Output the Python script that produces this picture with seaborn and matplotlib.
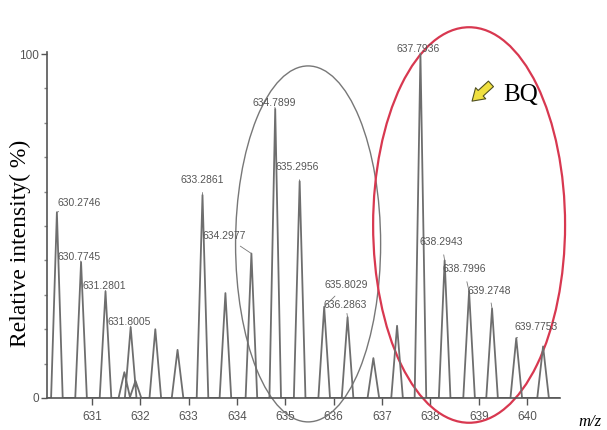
import numpy as np
import pandas as pd
import matplotlib
matplotlib.use("Agg")
import matplotlib.pyplot as plt
import seaborn as sns
from matplotlib.patches import Ellipse

# ---------------- data ----------------
peak_mz = [630.2746, 630.7745, 631.2801, 631.67, 631.8005, 631.90, 632.31, 632.77,
           633.2861, 633.76, 634.2977, 634.7899, 635.2956, 635.8029, 636.2863,
           636.82, 637.31, 637.7936, 638.2943, 638.7996, 639.2748, 639.7753, 640.33]
peak_int = [54, 39.5, 31, 7.5, 20.6, 5, 20, 14,
            59, 30.5, 42, 84, 63, 26.5, 23.5,
            11.6, 21, 100, 40, 31, 26, 17.4, 15]

label_mz = [630.2746, 630.7745, 631.2801, 631.8005, 633.2861, 634.2977, 634.7899,
            635.2956, 635.8029, 636.2863, 637.7936, 638.2943, 638.7996, 639.2748, 639.7753]
label_text = ["630.2746", "630.7745", "631.2801", "631.8005", "633.2861", "634.2977",
              "634.7899", "635.2956", "635.8029", "636.2863", "637.7936", "638.2943",
              "638.7996", "639.2748", "639.7753"]

x_ticks = [631, 632, 633, 634, 635, 636, 637, 638, 639, 640]
y_ticks = [0, 100]

# ---------------- layout / style ----------------
label_offsets = [(22, 9), (-2, 5), (-1, 5), (-1, 5), (0, 15), (-27, 18), (-1, 6),
                 (-2, 14), (22, 22), (-2, 12), (-2, 5), (-3, 18), (-5, 22), (-3, 18), (20, 11)]
half_w = 0.12
gray = "#6e6e6e"

sns.set_theme(style="white")
plt.rcParams["font.family"] = ["Liberation Sans", "DejaVu Sans"]

fig = plt.figure(figsize=(6.07, 4.30), dpi=100)
ax = fig.add_axes([47 / 607, 32 / 430, 513 / 607, 346 / 430])

# build profile line from peaks
xs, ys = [630.07], [0.0]
for c, h in zip(peak_mz, peak_int):
    xs += [c - half_w, c, c + half_w]
    ys += [0.0, h, 0.0]
xs.append(640.68)
ys.append(0.0)
prof = pd.DataFrame({"mz": xs, "inten": ys})
sns.lineplot(data=prof, x="mz", y="inten", sort=False, estimator=None,
             color=gray, lw=1.3, ax=ax)

ax.set_xlim(630.07, 640.68)
ax.set_ylim(0, 100.6)
ax.set_xlabel("")
ax.set_ylabel("")
for s in ["top", "right"]:
    ax.spines[s].set_visible(False)
for s in ["left", "bottom"]:
    ax.spines[s].set_color("#555555")
    ax.spines[s].set_linewidth(1.2)

ax.set_xticks(x_ticks)
ax.set_xticklabels([str(t) for t in x_ticks])
ax.set_yticks(y_ticks)
ax.set_yticklabels([str(t) for t in y_ticks])
ax.set_yticks(np.arange(10, 100, 10), minor=True)
ax.tick_params(axis="x", direction="out", length=5, width=1, color="#555555",
               labelsize=8.5, labelcolor="#555555", pad=4, bottom=True)
ax.tick_params(axis="y", which="major", direction="out", length=4, width=1,
               color="#555555", labelsize=8.5, labelcolor="#555555", pad=2, left=True)
ax.tick_params(axis="y", which="minor", direction="out", length=2.5, width=1,
               color="#888888", left=True)

# peak labels
for mz, txt, (dx, dy) in zip(label_mz, label_text, label_offsets):
    h = peak_int[peak_mz.index(mz)]
    ax.annotate(txt, xy=(mz, h), xytext=(dx, dy), textcoords="offset pixels",
                ha="center", va="center", fontsize=7.5, color="#555555",
                arrowprops=dict(arrowstyle="-", color="#777777", lw=0.6,
                                shrinkA=3, shrinkB=0))

# ellipses
ax.add_patch(Ellipse((635.47, 44.8), 3.0, 103.5, fill=False, ec="#777777",
                     lw=1.0, clip_on=False))
ax.add_patch(Ellipse((638.80, 50.3), 3.97, 115, fill=False, ec="#d83850",
                     lw=1.6, clip_on=False))

# BQ arrow and text
ax.annotate("", xy=(470, 327), xycoords="figure pixels",
            xytext=(493, 348), textcoords="figure pixels",
            arrowprops=dict(arrowstyle="simple,head_width=0.9,head_length=0.7,tail_width=0.45",
                            fc="#f0e040", ec="#505020", lw=0.8))
fig.text(503 / 607, (430 - 95) / 430, "BQ", fontsize=18, family="Liberation Serif",
         color="black", ha="left", va="center")

# axis titles
fig.text(20 / 607, (430 - 243) / 430, "Relative intensity( %)", rotation=90,
         fontsize=17, family="Liberation Serif", color="black", ha="center", va="center")
fig.text(578 / 607, 8 / 430, "m/z", fontsize=12, family="Liberation Serif",
         style="italic", color="black", ha="left", va="center")

fig.savefig("out.png", dpi=100)
